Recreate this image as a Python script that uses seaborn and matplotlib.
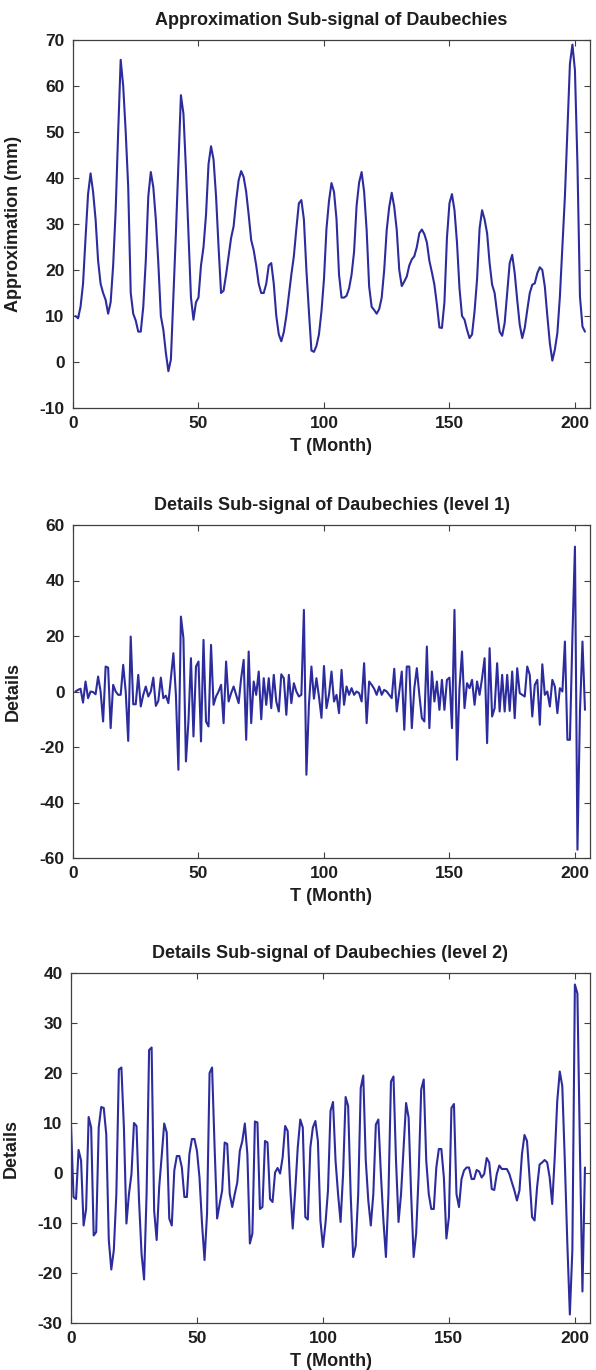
import numpy as np
import pandas as pd
import matplotlib
matplotlib.use("Agg")
import matplotlib.pyplot as plt
import seaborn as sns

# ---------------- data ----------------
months_approx = np.arange(1, 205)
approx = [10, 9.5, 12, 17, 27, 36.5, 41, 37, 31, 22, 17, 15, 13.5, 10.5, 13, 21, 33, 50, 65.7, 60,
          50, 38, 15, 10.5, 9, 6.6, 6.6, 12, 22, 36, 41.3, 38, 31, 21.5, 10, 7, 2, -2, 0.5, 14,
          28, 43, 58, 54, 42, 28, 14, 9.2, 13, 14, 21, 25, 32, 43, 46.9, 44, 36, 25, 15, 15.5,
          19, 23, 27, 29.5, 35, 39.5, 41.5, 40.2, 37, 32, 26.5, 24.3, 21, 17, 15, 15, 17, 21, 21.5, 17,
          10, 6, 4.5, 6.5, 10, 14.5, 19, 23, 29, 34.5, 35.2, 31, 20, 11, 2.5, 2.2, 3.5, 6, 11, 18,
          29, 35, 38.9, 37, 31, 19, 14, 14, 14.4, 16, 19, 24, 34, 39, 41.3, 37, 28.7, 16.4, 12, 11.3,
          10.5, 11.5, 14, 20, 28.7, 33.7, 36.8, 33.7, 28.7, 20, 16.5, 17.5, 18.6, 21, 22.3, 23, 25, 28, 28.8, 27.8,
          26, 22, 19.5, 16.8, 12.5, 7.5, 7.4, 13, 27, 34.5, 36.5, 33, 26, 16, 10, 9.2, 7, 5.2, 6, 11,
          18, 29, 33, 31, 28, 21.5, 16.8, 15, 10.6, 6.6, 5.7, 8.5, 15, 21.5, 23.3, 19.3, 13.5, 8.1, 5.2, 7.4,
          11.3, 15, 16.8, 17.1, 19.3, 20.6, 20, 16.4, 10, 4.1, 0.3, 2.7, 6.3, 14.2, 25, 36, 50.4, 64.8, 69, 63.4,
          43, 14.2, 7.7, 6.6]

months_d1 = np.arange(1, 205)
details1 = [0, 0.6, 1, -4, 3.6, -2.4, 0, -0.2, -1, 5.4, 0, -10.8, 9, 8.6, -13.2, 2.4, 0, -1.2, -1.2, 9.6,
            0, -17.8, 19.8, -4.6, -4.6, 6, -5.4, -1.2, 1.8, -1.8, 0, 5, -5.2, -3.4, 5, -2.4, -1.5, -4.2, 4.8, 13.8,
            -1.2, -28.2, 27, 19.2, -25.2, -10.8, 12, -16.2, 9, 10.8, -18, 18.6, -10.8, -12.6, 16.8, -4.8, -1.8, 0, 2.4, -11.4,
            10.8, -3.6, -0.6, 1.8, -1.2, -4.2, 4.8, 11.4, -17.4, 14.4, -11.4, 3.6, -1.2, 7.2, -10, 4.8, -4.8, 4.8, -6, 6,
            -3.6, -7.2, 6.2, 4.8, -8.4, 6, -4.2, 3, 0, -1.8, -1.2, 29.4, -30, -4.8, 9, -2.6, 4.8, -1.8, -9.5, 9.2,
            -6, -1.2, 7.2, -3.6, -1.2, -7.8, 7.8, -4.8, 1.8, -1.2, 1.2, -1.2, 0, -0.6, -3.6, 10.2, -11.4, 3.6, 2.4, 1,
            -1.2, 1.8, -1.2, 0.6, 0, -1.2, -2.4, 8.2, -7.2, 0, 7.2, -13.8, 9, 9, -13.2, 1.2, 8.4, -1.2, -9.6, -10.8,
            16.2, -13.2, 7.2, -3.6, 3.6, -6.6, 4.2, -6.6, 4.2, 5, -13.2, 29.4, -24.6, 1.2, 14.4, -6, 3, 1.2, 4.2, -4.8,
            3.6, -1.2, 4.8, 12, -18.6, 15.6, -9, -6, 10.2, -7.2, 6, -7.2, 6, -7, 7.2, -9.6, 8.4, -0.6, -1.2, -1.8,
            9, 6, -9, 2.4, 4.2, -12, 9.8, -1.2, 0, -5.4, 4.2, 1.8, -7.8, 1.2, 0, 18, -17.4, -17.4, 20, 52.2,
            -57, -7.2, 18, -6.6]

months_d2 = np.arange(0, 205)
details2 = [9.7, -4.8, -5.2, 4.6, 2.5, -10.5, -7.2, 11.2, 9.1, -12.5, -11.8, 9.1, 13.2, 13, 7.7, -13.4, -19.3, -15.4, -4.2, 20.7,
            21.1, 9.1, -10.1, -4.2, -0.2, 10, 9.4, -5.5, -16.1, -21.3, -4.2, 24.6, 25.1, -7.5, -13.4, -2.8, 3.4, 9.9, 8.1, -9.1,
            -10.5, 0.5, 3.4, 3.4, 1.1, -4.8, -4.8, 3.8, 6.8, 6.8, 4.4, -0.9, -10.1, -17.4, -8.1, 20, 21.1, 5.1, -9.1, -6.2,
            -3.5, 6.1, 5.8, -4.2, -6.8, -4.2, -1.9, 4.4, 6.4, 9.9, 3.8, -14.1, -12.1, 10.3, 10.1, -7.2, -6.8, 6.4, 6.1, -5.2,
            -5.8, 0.1, 1, -0.1, 3.1, 9.4, 8.4, -2.8, -11.1, -3.5, 5.1, 10.7, 9.1, -8.8, -9.3, 5.1, 9.1, 10.4, 6.4, -9.5,
            -14.8, -10.1, -3.5, 12.4, 14.2, 2.5, -4.2, -9.8, -0.2, 15.2, 13.4, -4.2, -16.8, -14.6, -4.2, 17, 19.5, 2.5, -5.5, -10.5,
            -4.2, 9.7, 10.7, -0.2, -9.5, -16.8, -4.2, 18.3, 19.3, 2.5, -9.8, -4.2, 5.1, 14, 11.1, -4.2, -16.8, -12.1, -0.2, 16.7,
            18.7, 2.5, -4.2, -7.2, -7.2, 1.1, 4.8, 4.8, -0.9, -13.1, -8.8, 13, 13.8, -4.2, -6.8, -1.2, 0.5, 1.1, 1.1, -1.2,
            -1.2, 0.6, 0.3, -0.9, -0.2, 3, 2.1, -3.2, -3.4, -0.2, 1.5, 0.8, 0.8, 0.8, -0.2, -1.9, -3.5, -5.5, -3.5, 3.8,
            7.6, 6.4, -0.9, -8.8, -9.5, -2.8, 1.7, 2.1, 2.6, 2.1, -0.9, -6.2, 3.1, 14.4, 20.3, 17.4, 2.5, -14.1, -28.3, -15.4,
            37.7, 35.9, 5, -23.7, 1.1]

titles = ["Approximation Sub-signal of Daubechies",
          "Details Sub-signal of Daubechies (level 1)",
          "Details Sub-signal of Daubechies (level 2)"]
ylabels = ["Approximation (mm)", "Details", "Details"]
xlabel = "T (Month)"
xticks = [0, 50, 100, 150, 200]
yticks_list = [list(range(-10, 71, 10)), list(range(-60, 61, 20)), list(range(-30, 41, 10))]
ylims = [(-10, 70), (-60, 60), (-30, 40)]

# ---------------- style ----------------
sns.set_theme(style="ticks")
plt.rcParams['font.family'] = ['Liberation Sans', 'DejaVu Sans']
plt.rcParams['font.weight'] = 'bold'
plt.rcParams['axes.labelweight'] = 'bold'
plt.rcParams['axes.titleweight'] = 'bold'

LINE = "#2c2c9e"
TXT = "#1e1e1e"
SPINE = "#404040"

W, H = 596, 1370
fig = plt.figure(figsize=(W / 100, H / 100), dpi=100)
fig.patch.set_facecolor("white")

# axes boxes in pixels: (left, top, right, bottom)
boxes = [(73, 40, 590, 408), (73, 525, 590, 858), (71, 973, 590, 1323)]
ylab_x = [22, 22, 20]

series = [(months_approx, approx), (months_d1, details1), (months_d2, details2)]

for i, ((l, t, r, b), (mx, vals)) in enumerate(zip(boxes, series)):
    ax = fig.add_axes([l / W, (H - b) / H, (r - l) / W, (b - t) / H])
    df = pd.DataFrame({"month": mx, "value": vals})
    sns.lineplot(data=df, x="month", y="value", ax=ax, color=LINE,
                 linewidth=1.5, estimator=None, sort=False)
    ax.set_xlim(0, 206)
    ax.set_ylim(*ylims[i])
    ax.set_xticks(xticks)
    ax.set_yticks(yticks_list[i])
    ax.set_xticklabels([str(v) for v in xticks])
    ax.set_yticklabels([str(v) for v in yticks_list[i]])
    ax.tick_params(direction="in", top=True, right=True, length=4, width=0.8,
                   color=SPINE, labelsize=12.5, labelcolor=TXT)
    ax.tick_params(axis="x", pad=6)
    ax.tick_params(axis="y", pad=6)
    for lab in ax.get_xticklabels() + ax.get_yticklabels():
        lab.set_fontweight("bold")
    for sp in ax.spines.values():
        sp.set_visible(True)
        sp.set_color(SPINE)
        sp.set_linewidth(0.9)
    ax.set_title(titles[i], fontsize=13, fontweight="bold", color=TXT, pad=11)
    ax.set_xlabel(xlabel, fontsize=13, fontweight="bold", color=TXT, labelpad=5)
    ax.set_ylabel(ylabels[i], fontsize=13, fontweight="bold", color=TXT)
    ax.yaxis.set_label_coords((ylab_x[i] - l) / (r - l), 0.5)
    ax.set_facecolor("white")

fig.savefig("out.png", dpi=100, facecolor="white")
